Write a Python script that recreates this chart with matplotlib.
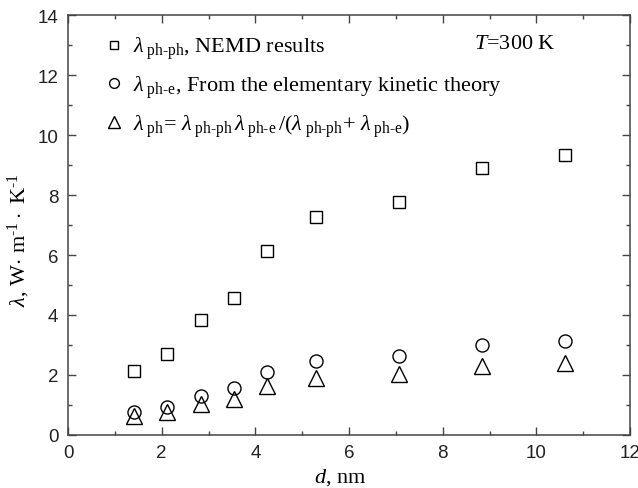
import matplotlib
matplotlib.use('Agg')
import matplotlib.pyplot as plt

# diameter, nm
d_nm = [1.41, 2.12, 2.83, 3.54, 4.24, 5.30, 7.07, 8.84, 10.60]
# thermal conductivities, W/(m K)
lam_phph = [2.14, 2.70, 3.83, 4.55, 6.12, 7.28, 7.78, 8.92, 9.34]
lam_phe = [0.75, 0.91, 1.30, 1.55, 2.08, 2.45, 2.62, 3.00, 3.12]
lam_ph = [0.61, 0.77, 1.01, 1.20, 1.62, 1.89, 2.02, 2.30, 2.40]

plt.rcParams['font.family'] = 'Liberation Serif'
plt.rcParams['mathtext.fontset'] = 'custom'
plt.rcParams['mathtext.rm'] = 'Liberation Serif'
plt.rcParams['mathtext.it'] = 'Liberation Serif:italic'
plt.rcParams['mathtext.bf'] = 'Liberation Serif:bold'

fig = plt.figure(figsize=(6.38, 4.89), dpi=100)
ax = fig.add_axes([0.1066, 0.109, 0.881, 0.8573])

mk = dict(linestyle='none', markerfacecolor='none', markeredgecolor='black', markeredgewidth=1.0)
ax.plot(d_nm, lam_phph, marker='s', markersize=8.4, label=r'$\lambda_{\ \text{ph-ph}}$, NEMD results', **mk)
ax.plot(d_nm, lam_phe, marker='o', markersize=9.4, label=r'$\lambda_{\ \text{ph-e}}$, From the elementary kinetic theory', **mk)
ax.plot(d_nm, lam_ph, marker='^', markersize=11.5,
        label=r'$\lambda_{\ \text{ph}}$= $\lambda_{\ \text{ph-ph}}\,\lambda_{\ \text{ph-e}}\,$/($\lambda_{\ \text{ph-ph}}$+ $\lambda_{\ \text{ph-e}}$)', **mk)

ax.set_xlim(0, 12)
ax.set_ylim(0, 14)
ax.set_xticks([0, 2, 4, 6, 8, 10, 12])
ax.set_yticks([0, 2, 4, 6, 8, 10, 12, 14])
ax.set_xticks([1, 3, 5, 7, 9, 11], minor=True)
ax.set_yticks([1, 3, 5, 7, 9, 11, 13], minor=True)
ax.tick_params(which='both', direction='in', top=True, right=True, color='#444444',
               labelsize=13.5, labelcolor='#222222', labelfontfamily='Liberation Sans', pad=7)
ax.tick_params(which='major', length=6, width=1.0)
ax.tick_params(which='minor', length=3, width=1.0)
for s in ax.spines.values():
    s.set_color('#444444')
    s.set_linewidth(1.1)

ax.set_xlabel(r'$d$, nm', fontsize=16)
ax.xaxis.set_label_coords(0.485, -0.075)
ax.set_ylabel(r'$\lambda$, W$\cdot$ m$^{\text{-1}}\cdot$ K$^{\text{-1}}$', fontsize=16)
ax.yaxis.set_label_coords(-0.064, 0.467)

ax.legend(loc='upper left', frameon=False, fontsize=16, handlelength=0.6, handletextpad=0.55,
          labelspacing=0.55, borderaxespad=0.0, markerscale=0.75, bbox_to_anchor=(0.055, 0.975))
ax.text(0.867, 0.932, r'$T$=300 K', transform=ax.transAxes, ha='right', va='center', fontsize=16)

fig.savefig('out.png', dpi=100)
